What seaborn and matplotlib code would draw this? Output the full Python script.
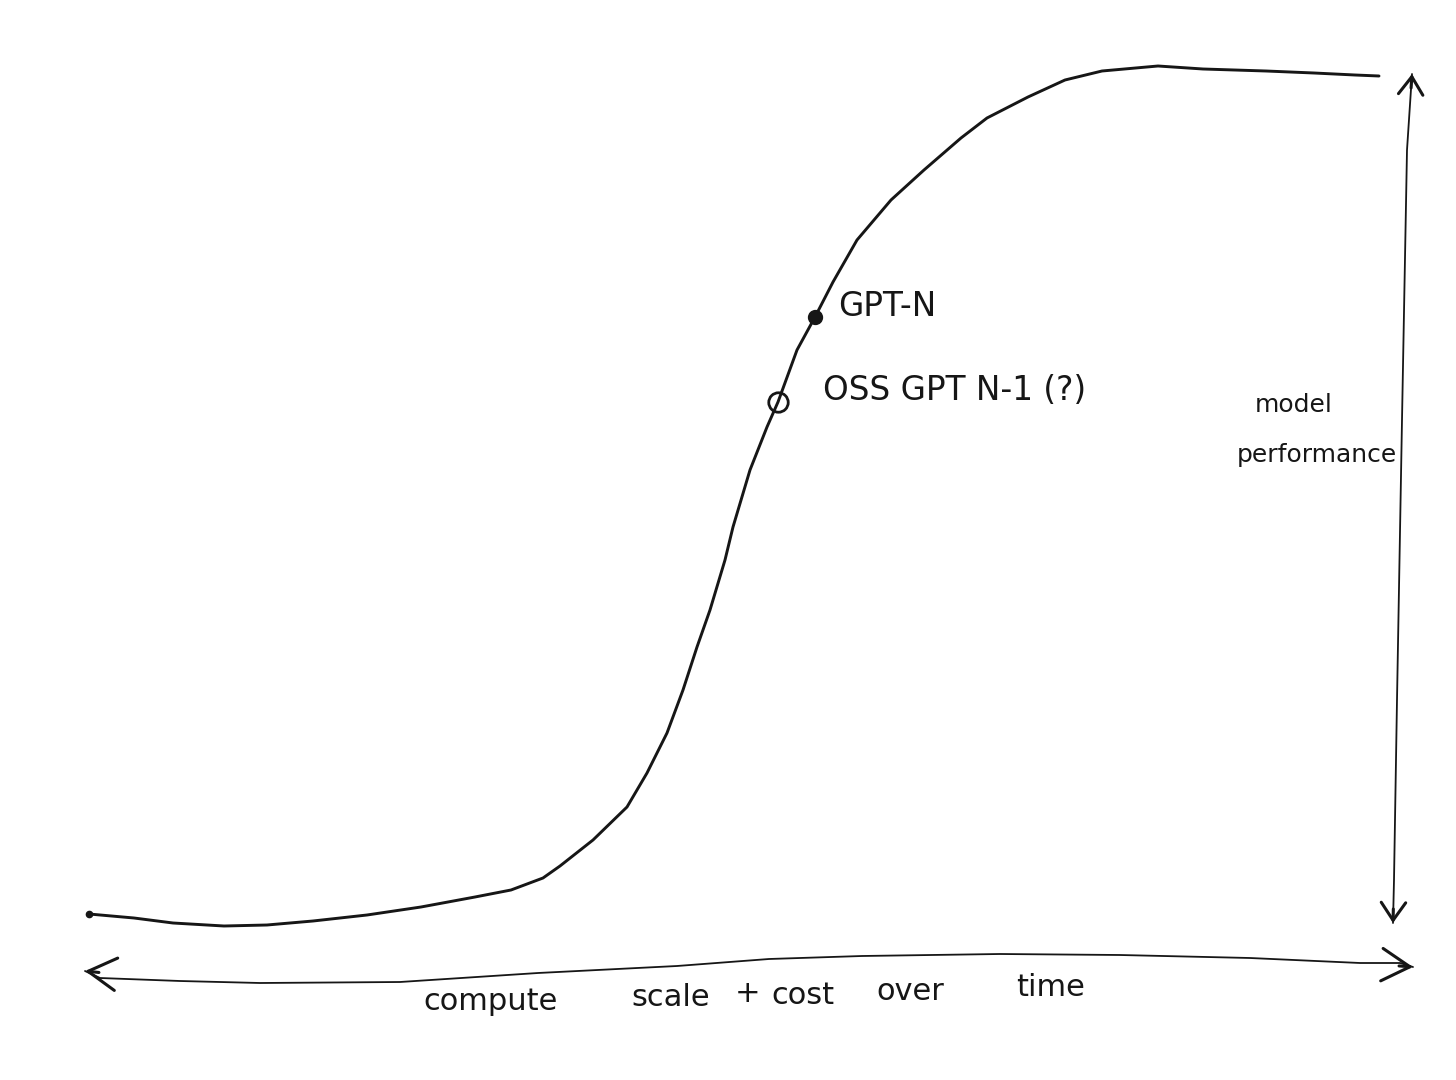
import numpy as np
import pandas as pd
import seaborn as sns
import matplotlib.pyplot as plt

# hand-drawn s-curve (x = compute/time, y = performance, screen units)
curve_x = [89, 134, 173, 224, 267, 313, 367, 421, 475, 511, 543, 560, 593, 627, 647, 667,
           683, 697, 710, 725, 733, 750, 767, 778, 797, 815, 833, 857, 891, 924, 961, 987,
           1028, 1065, 1102, 1158, 1203, 1266, 1314, 1355, 1379]
curve_y = [914, 918, 923, 926, 925, 921, 915, 907, 897, 890, 878, 866, 840, 807, 773, 733,
           690, 647, 610, 560, 527, 470, 427, 402, 350, 317, 282, 240, 200, 170, 138, 118,
           97, 80, 71, 66, 69, 71, 73, 75, 76]

# horizontal axis stroke (slightly wavy) and vertical axis stroke, tip to tip
haxis_x = [85, 100, 180, 260, 400, 538, 677, 769, 862, 1000, 1120, 1250, 1360, 1400, 1413]
haxis_y = [971, 978, 981, 983, 982, 973, 966, 959, 956, 954, 955, 958, 963, 963, 967]
vaxis_x = [1412, 1407, 1402, 1397, 1394, 1393]
vaxis_y = [74, 150, 420, 700, 880, 923]

# models on the curve
model_names = ['GPT-N', 'OSS GPT N-1 (?)']
model_x = [815, 778]
model_y = [317, 402]
model_filled = [True, False]
label_x = [838, 823]
label_y = [307, 390]

# axis annotations
xlabel_words = ['compute', 'scale', '+', 'cost', 'over', 'time']
xlabel_x = [491, 671, 748, 803, 910, 1051]
xlabel_y = [1002, 997, 993, 995, 991, 988]
ylabel_lines = ['model', 'performance']
ylabel_x = [1294, 1317]
ylabel_y = [405, 455]

sns.set_theme(style='white')
plt.rcParams['font.family'] = ['DejaVu Sans']

fig = plt.figure(figsize=(14.56, 10.8), dpi=100)
ax = fig.add_axes([0, 0, 1, 1])
ax.set_xlim(0, 1456)
ax.set_ylim(1080, 0)
ax.axis('off')

ink = '#161616'
curve = pd.DataFrame({'x': curve_x, 'y': curve_y})
sns.lineplot(data=curve, x='x', y='y', sort=False, color=ink, lw=2.1, ax=ax,
             solid_joinstyle='round', solid_capstyle='round')
sns.lineplot(x=haxis_x, y=haxis_y, sort=False, color=ink, lw=1.3, ax=ax)
sns.lineplot(x=vaxis_x, y=vaxis_y, sort=False, color=ink, lw=1.3, ax=ax)
ax.plot(curve_x[0], curve_y[0], 'o', ms=4.5, color=ink)


def head(tip, back, style, ms):
    # short shaft along the stroke direction so only the head shows
    tip, back = np.array(tip, float), np.array(back, float)
    d = (back - tip) / np.hypot(*(back - tip))
    ax.annotate('', xy=tip, xytext=tip + 14 * d,
                arrowprops=dict(arrowstyle=style, mutation_scale=ms, lw=2.2,
                                color=ink, shrinkA=0, shrinkB=0))


h_style = '->, head_length=0.45, head_width=0.26'
v_style = '->, head_length=0.32, head_width=0.22'
head((haxis_x[0], haxis_y[0]), (haxis_x[2], haxis_y[2]), h_style, 45)
head((haxis_x[-1], haxis_y[-1]), (haxis_x[-3], haxis_y[-3]), h_style, 45)
head((vaxis_x[0], vaxis_y[0]), (vaxis_x[1], vaxis_y[1]), v_style, 40)
head((vaxis_x[-1], vaxis_y[-1]), (vaxis_x[-2], vaxis_y[-2]), v_style, 40)

# model markers and labels
for name, mx, my, filled, lx, ly in zip(model_names, model_x, model_y, model_filled, label_x, label_y):
    ax.plot(mx, my, 'o', ms=9 if filled else 14, mfc=ink if filled else 'none',
            mec=ink, mew=2.0, zorder=5)
    ax.text(lx, ly, name, fontsize=23.5, color=ink, ha='left', va='center')

for word, wx, wy in zip(xlabel_words, xlabel_x, xlabel_y):
    ax.text(wx, wy, word, fontsize=22, color=ink, ha='center', va='center')
for line, tx, ty in zip(ylabel_lines, ylabel_x, ylabel_y):
    ax.text(tx, ty, line, fontsize=18, color=ink, ha='center', va='center')

fig.savefig('out.png', dpi=100, facecolor='white')
